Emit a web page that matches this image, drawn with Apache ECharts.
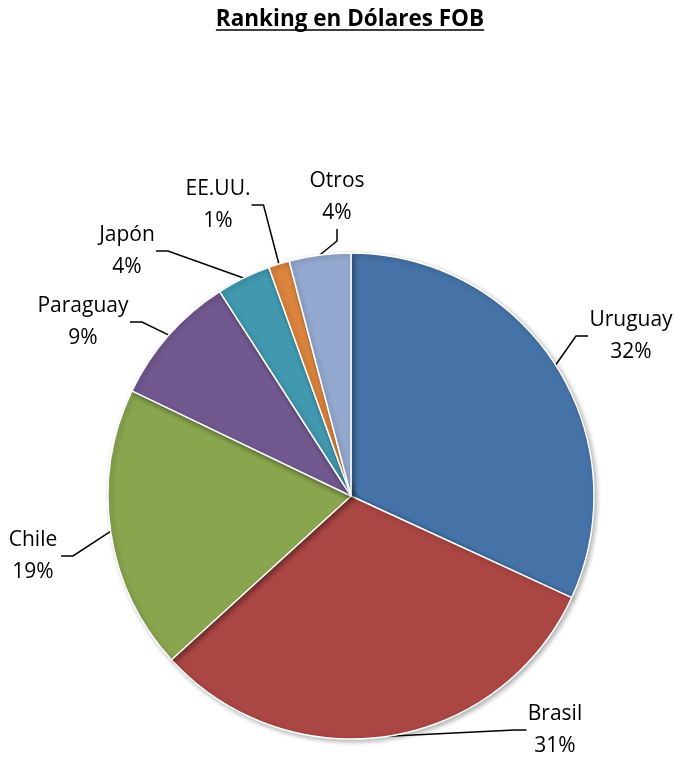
<!DOCTYPE html>
<html>
<head>
<meta charset="utf-8">
<script src="https://cdn.jsdelivr.net/npm/echarts@6/dist/echarts.min.js"></script>
<style>html,body{margin:0;padding:0;background:#fff}#c{width:680px;height:759px}</style>
</head>
<body>
<div id="c"></div>
<script>
const categories = ['Uruguay', 'Brasil', 'Chile', 'Paraguay', 'Japón', 'EE.UU.', 'Otros'];
const shares = [31.9, 31.4, 18.9, 8.8, 3.6, 1.4, 4.1];
const colors = ['#4572A7', '#AA4643', '#89A54E', '#71588F', '#4198AF', '#DB843D', '#93A9CF'];
const titleText = 'Ranking en Dólares FOB';

// label anchor positions (style)
const labelPos = [[631, 336], [555, 730], [33, 556], [83, 322], [127, 251], [218, 205], [337, 197]];

const FONT = '"Open Sans", "Noto Sans", sans-serif';
const TITLE_SIZE = 22.5;
const LABEL_SIZE = 21;
const chart = echarts.init(document.getElementById('c'));

const cv = document.createElement('canvas').getContext('2d');
cv.font = 'bold ' + TITLE_SIZE + 'px "Open Sans"';
const tw = cv.measureText(titleText).width;
cv.font = LABEL_SIZE + 'px "Open Sans"';
const labelW = categories.map(c => Math.ceil(Math.max(cv.measureText(c).width, cv.measureText('100%').width)) + 2);

chart.setOption({
  animation: false,
  title: {
    text: titleText, left: 345, top: 3, textAlign: 'center',
    textStyle: {fontFamily: FONT, fontWeight: 'bold', fontSize: TITLE_SIZE, color: '#000'}
  },
  graphic: [{
    type: 'line', shape: {x1: 350 - tw / 2, y1: 30, x2: 350 + tw / 2, y2: 30},
    style: {stroke: '#000', lineWidth: 1.5}
  }],
  series: [{
    type: 'pie',
    center: [351, 496],
    radius: 243,
    startAngle: 90,
    clockwise: true,
    percentPrecision: 0,
    data: categories.map((c, i) => ({name: c, value: shares[i], itemStyle: {color: colors[i]}, label: {width: labelW[i]}})),
    itemStyle: {borderColor: '#fff', borderWidth: 1.5, shadowBlur: 5, shadowColor: 'rgba(0,0,0,0.3)', shadowOffsetX: 2, shadowOffsetY: 2},
    label: {
      show: true, position: 'outside', formatter: '{b}\n{d}%', overflow: 'none',
      fontFamily: FONT, fontSize: LABEL_SIZE, color: '#000', lineHeight: 32, align: 'center'
    },
    labelLine: {show: true, length: 15, length2: 12, lineStyle: {color: '#000', width: 1.5}},
    labelLayout: function (p) {
      const pos = labelPos[p.dataIndex];
      return {x: pos[0], y: pos[1], align: 'center', verticalAlign: 'middle'};
    },
    emphasis: {disabled: true}
  }]
});
</script>
</body>
</html>
